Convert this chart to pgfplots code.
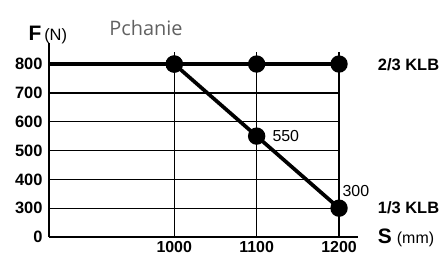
\documentclass[border=0pt]{standalone}
\usepackage{fontspec}
\setmainfont{Liberation Sans}
\newfontfamily\pch{Open Sans}
\usepackage{pgfplots}
\pgfplotsset{compat=1.18}
\begin{document}
\begin{tikzpicture}
\begin{axis}[at={(49bp,20bp)}, anchor=south west, scale only axis,
  width=309bp, height=194bp,
  xmin=848, xmax=1223, ymin=200, ymax=873,
  axis lines=left, axis line style={-, line width=1.6bp},
  xtick={1000,1100,1200}, xticklabels={1000,1100,1200},
  ytick={200,300,400,500,600,700,800}, yticklabels={0,300,400,500,600,700,800},
  major tick length=0,
  xticklabel style={font=\bfseries\fontsize{16}{16}\selectfont, yshift=-1bp},
  yticklabel style={font=\bfseries\fontsize{16.5}{16.5}\selectfont, xshift=-3bp},
  clip=false]
\addplot[black, line width=1.3bp] coordinates {(848,300)(1200,300)};
\addplot[black, line width=1.3bp] coordinates {(848,400)(1200,400)};
\addplot[black, line width=1.3bp] coordinates {(848,500)(1200,500)};
\addplot[black, line width=1.3bp] coordinates {(848,600)(1200,600)};
\addplot[black, line width=1.3bp] coordinates {(848,700)(1200,700)};
\addplot[black, line width=1.3bp] coordinates {(1000,200)(1000,841)};
\addplot[black, line width=1.3bp] coordinates {(1100,200)(1100,841)};
\addplot[black, line width=1.3bp] coordinates {(1200,200)(1200,841)};
\addplot[black, line width=3.7bp, mark=*, mark size=6.8bp, mark indices={2,3,4}]
  coordinates {(848,800)(1000,800)(1100,800)(1200,800)};
\addplot[black, line width=3.7bp, mark=*, mark size=6.8bp]
  coordinates {(1000,800)(1100,550)(1200,300)};
\node[anchor=base west, inner sep=0, font=\bfseries\fontsize{21}{21}\selectfont] at (axis cs:823,883) {F};
\node[anchor=base west, inner sep=0, font=\fontsize{16.5}{16.5}\selectfont] at (axis cs:842,883) {(N)};
\node[anchor=base west, inner sep=0, text=black!62, font=\pch\fontsize{20}{20}\selectfont] at (axis cs:921,899) {Pchanie};
\node[anchor=base west, inner sep=0, font=\fontsize{16}{16}\selectfont] at (axis cs:1119,533) {550};
\node[anchor=base west, inner sep=0, font=\fontsize{16}{16}\selectfont] at (axis cs:1204,339) {300};
\node[anchor=base west, inner sep=0, font=\bfseries\fontsize{16.5}{16.5}\selectfont] at (axis cs:1247,776) {2/3 KLB};
\node[anchor=base west, inner sep=0, font=\bfseries\fontsize{16.5}{16.5}\selectfont] at (axis cs:1247,283) {1/3 KLB};
\node[anchor=base west, inner sep=0, font=\bfseries\fontsize{21}{21}\selectfont] at (axis cs:1247,179) {S};
\node[anchor=base west, inner sep=0, font=\fontsize{16}{16}\selectfont] at (axis cs:1270,179) {(mm)};
\end{axis}
\pgfresetboundingbox
\useasboundingbox (0,0) rectangle (442bp,257bp);
\end{tikzpicture}
\end{document}
